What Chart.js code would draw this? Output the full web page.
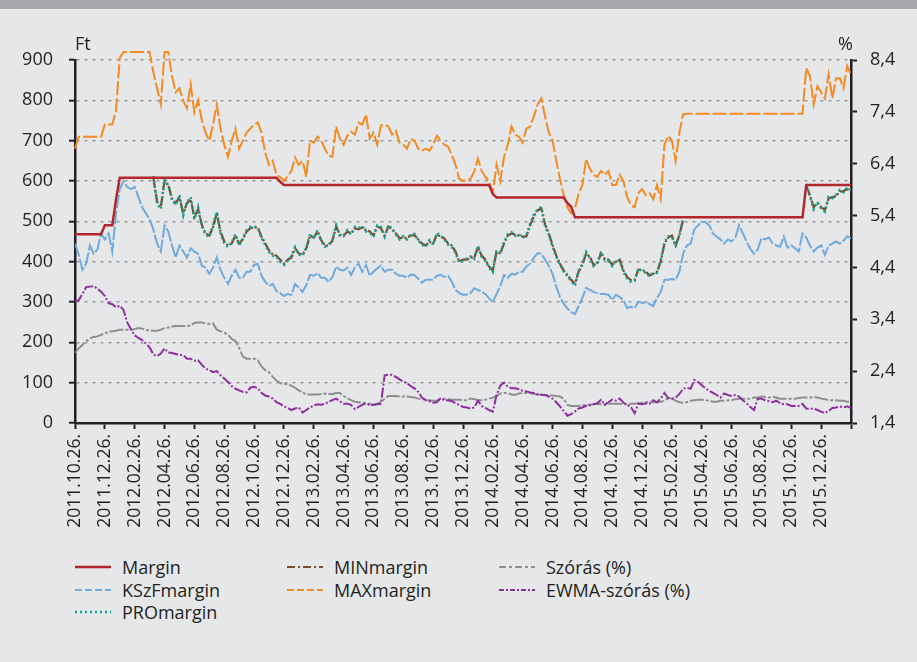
<!DOCTYPE html>
<html>
<head>
<meta charset="utf-8">
<script src="https://cdn.jsdelivr.net/npm/chart.js@4.4.1/dist/chart.umd.min.js"></script>
<style>
  html, body { margin: 0; padding: 0; }
  body {
    width: 917px; height: 662px; position: relative; overflow: hidden;
    background: #e6e7e9; font-family: 'Open Sans', sans-serif; color: #231f20;
  }
  .topbar { position: absolute; left: 0; top: 0; width: 917px; height: 9px; background: #a7a8ab; }
  #chart { position: absolute; left: 0; top: 0; }
  .item { position: absolute; height: 22px; display: flex; align-items: center; font-size: 18px; white-space: nowrap; }
  .item svg { margin-right: 11px; }
</style>
</head>
<body>
<div class="topbar"></div>
<canvas id="chart" width="917" height="545"></canvas>
<div id="legend"></div>

<script>
// x axis: one point per week from 2011.10.26, a labelled tick every 8 weeks
const dateLabels = [
    '2011.10.26.', '2011.12.26.', '2012.02.26.', '2012.04.26.', '2012.06.26.', '2012.08.26.',
    '2012.10.26.', '2012.12.26.', '2013.02.26.', '2013.04.26.', '2013.06.26.', '2013.08.26.',
    '2013.10.26.', '2013.12.26.', '2014.02.26.', '2014.04.26.', '2014.06.26.', '2014.08.26.',
    '2014.10.26.', '2014.12.26.', '2015.02.26.', '2015.04.26.', '2015.06.26.', '2015.08.26.',
    '2015.10.26.', '2015.12.26.'
];
const weeksPerLabel = 8;
const lastWeek = 208;

// Margin (Ft) - break points of the step line
const marginWeek = [0, 7, 8, 10, 11, 12, 54, 55, 56, 111, 112, 113, 131, 132, 133, 134, 195, 196, 208];
const marginFt   = [468, 468, 490, 490, 555, 608, 608, 598, 590, 590, 568, 559, 559, 545, 536, 510, 510, 590, 590];

// KSzFmargin (Ft), weekly
const kszfFt = [
    445, 417, 380, 395, 440, 420, 430, 470, 455, 470, 425, 520, 580, 600, 585, 580, 585, 560, 535, 520,
    505, 480, 445, 425, 490, 475, 441, 410, 440, 425, 410, 433, 425, 420, 390, 385, 370, 385, 410, 380,
    360, 345, 365, 380, 360, 360, 375, 375, 392, 395, 365, 350, 340,
    345, 327, 322, 315, 320, 318, 345, 335, 325, 342, 367, 365, 372, 360, 360, 350, 362, 388, 380, 378,
    385, 367, 385, 395, 375, 392, 365, 375, 383, 390, 375, 380, 380, 370, 365, 365, 360, 368, 367, 358,
    348, 355, 355, 355, 365, 368, 362, 365, 350, 330, 322, 318, 318,
    322, 334, 330, 325, 320, 309, 300, 320, 340, 367, 360, 370, 368, 375, 375, 388, 395, 410, 421, 420,
    405, 390, 370, 338, 312, 295, 284, 275, 270, 290, 310, 335, 330, 325, 322, 320, 320, 318, 305, 318,
    312, 305, 285, 288, 285, 300, 298, 298, 295, 290, 310, 325, 355,
    355, 357, 355, 375, 420, 440, 445, 480, 490, 499, 498, 490, 470, 462, 455, 445, 455, 450, 460, 490,
    470, 450, 432, 420, 430, 458, 455, 460, 445, 440, 437, 462, 435, 440, 433, 425, 470, 460, 440, 425,
    435, 440, 417, 440, 445, 450, 445, 452, 463, 458
];

// MAXmargin (Ft), weekly
const maxFt = [
    680, 710, 710, 710, 710, 710, 710, 710, 740, 740, 740, 775, 905, 920, 920, 920, 920, 920, 920, 920,
    920, 870, 830, 790, 920, 920, 860, 820, 830, 800, 780, 840, 770, 800, 750, 720, 700, 740, 790, 730,
    690, 660, 700, 730, 680, 700, 720, 730, 740, 745, 720, 670, 640,
    650, 615, 610, 600, 612, 625, 658, 640, 650, 610, 700, 695, 710, 700, 680, 662, 660, 735, 705, 690,
    712, 722, 715, 745, 740, 765, 705, 720, 690, 738, 740, 735, 715, 725, 695, 690, 680, 705, 700, 680,
    675, 680, 675, 690, 712, 700, 690, 685, 665, 640, 605, 600, 602,
    605, 623, 655, 625, 610, 598, 572, 640, 600, 660, 690, 735, 715, 710, 695, 730, 735, 760, 790, 805,
    760, 720, 700, 650, 605, 565, 535, 520, 532, 568, 590, 655, 630, 615, 610, 625, 615, 625, 590, 590,
    615, 600, 560, 540, 535, 570, 580, 565, 570, 555, 590, 555,
    690, 712, 700, 650, 720, 765,
    767, 767, 767, 767, 767, 767, 767, 767, 767, 767, 767, 767, 767, 767, 767, 767,
    767, 767, 767, 767, 767, 767, 767, 767, 767, 767, 767, 767, 767, 767, 767, 767,
    880, 860, 790, 835, 820, 805, 865, 805, 855, 855, 830, 885, 863
];

// MINmargin and PROmargin (Ft), weekly, two stretches
const minStartA = 21;
const minFtA = [
    608, 549, 535, 600, 590, 557, 545, 560, 520, 545, 555, 510, 530, 491, 470, 465, 485, 520, 475, 450,
    440, 445, 465, 445, 455, 475, 483, 485, 485, 462, 445, 428,
    418, 415, 405, 395, 405, 410, 433, 420, 418, 433, 465, 460, 475, 453, 440, 440, 452, 487, 467, 463,
    475, 470, 483, 480, 485, 478, 475, 465, 487, 483, 465, 487, 480, 470, 458, 460, 458, 465, 466, 455,
    445, 440, 450, 445, 468, 462, 458, 445, 440, 425, 400, 405, 405,
    410, 410, 436, 415, 405, 388, 378, 425, 420, 445, 465, 470, 467, 465, 462, 463, 490, 513, 527, 532,
    492, 470, 441, 415, 395, 378, 367, 355, 345, 375, 392, 420, 412, 392, 395, 421, 407, 405, 392, 400,
    405, 378, 362, 354, 355, 380, 380, 375, 366, 370, 375, 400, 445, 460, 465, 440, 465, 505
];
const minStartB = 196;
const minFtB = [588, 565, 535, 545, 535, 528, 557, 560, 562, 574, 575, 580, 575];

const proFtA = [
    612, 545, 530, 605, 588, 552, 540, 565, 515, 548, 560, 505, 535, 488, 466, 462, 490, 524, 470, 446,
    436, 448, 468, 440, 458, 478, 486, 488, 482, 458, 441, 424,
    415, 412, 400, 392, 402, 414, 436, 418, 414, 436, 468, 457, 478, 450, 437, 443, 455, 490, 464, 466,
    478, 467, 486, 483, 488, 475, 472, 462, 490, 486, 462, 490, 483, 467, 455, 463, 455, 468, 469, 452,
    442, 437, 453, 442, 471, 465, 455, 442, 437, 422, 397, 402, 408,
    413, 407, 440, 412, 402, 385, 374, 428, 423, 448, 468, 473, 464, 468, 459, 466, 494, 517, 530, 536,
    488, 467, 438, 412, 392, 375, 364, 351, 340, 378, 395, 424, 409, 389, 398, 424, 404, 402, 389, 403,
    402, 375, 358, 350, 352, 383, 377, 372, 363, 373, 372, 404, 448, 463, 462, 437, 468, 510
];
const proFtB = [592, 562, 530, 548, 532, 524, 560, 557, 566, 578, 572, 584, 578];

// Szórás (%), weekly
const sdPct = [
    2.75, 2.84, 2.91, 2.98, 3.03, 3.06, 3.07, 3.10, 3.13, 3.16, 3.17, 3.18, 3.20, 3.20, 3.20, 3.20, 3.21, 3.23, 3.22, 3.20,
    3.18, 3.18, 3.18, 3.20, 3.23, 3.24, 3.26, 3.27, 3.27, 3.27, 3.27, 3.28, 3.33, 3.34, 3.34, 3.32, 3.31, 3.32, 3.20, 3.17,
    3.14, 3.10, 3.02, 2.98, 2.85, 2.68, 2.64, 2.64, 2.64, 2.61, 2.49, 2.42, 2.38,
    2.29, 2.22, 2.17, 2.15, 2.15, 2.12, 2.08, 2.03, 1.99, 1.95, 1.95, 1.95, 1.95, 1.96, 1.97, 1.96, 1.96, 1.98, 1.98,
    1.92, 1.88, 1.84, 1.81, 1.80, 1.79, 1.78, 1.77, 1.75, 1.77, 1.80, 1.87, 1.92, 1.92, 1.92, 1.91, 1.91, 1.91, 1.90, 1.89,
    1.87, 1.86, 1.85, 1.84, 1.83, 1.83, 1.87, 1.87, 1.86, 1.85, 1.85, 1.85, 1.84, 1.84,
    1.87, 1.86, 1.84, 1.84, 1.85, 1.87, 1.89, 1.92, 1.97, 1.98, 1.98, 1.95, 1.94, 1.97, 1.98, 1.98, 1.98, 1.96, 1.95, 1.95,
    1.94, 1.94, 1.93, 1.92, 1.91, 1.87, 1.75, 1.73, 1.73, 1.73, 1.74, 1.75, 1.75, 1.76, 1.77, 1.76, 1.76, 1.77, 1.77, 1.77,
    1.77, 1.76, 1.76, 1.77, 1.77, 1.78, 1.79, 1.80, 1.81, 1.80, 1.80, 1.81, 1.83,
    1.88, 1.87, 1.83, 1.80, 1.79, 1.80, 1.83, 1.84, 1.85, 1.85, 1.84, 1.83, 1.81, 1.81, 1.83, 1.83, 1.84, 1.84, 1.86, 1.87,
    1.87, 1.87, 1.87, 1.89, 1.89, 1.91, 1.90, 1.89, 1.90, 1.89, 1.87, 1.87, 1.87, 1.87, 1.87, 1.88, 1.89, 1.89, 1.89, 1.90,
    1.89, 1.87, 1.86, 1.84, 1.84, 1.84, 1.83, 1.83, 1.81, 1.81
];

// EWMA-szórás (%), weekly
const ewmaPct = [
    3.74, 3.77, 3.89, 4.02, 4.03, 4.04, 3.99, 3.93, 3.85, 3.71, 3.69, 3.63, 3.66, 3.58, 3.34, 3.21, 3.09, 3.04, 3.00, 2.93,
    2.86, 2.72, 2.69, 2.74, 2.84, 2.76, 2.75, 2.73, 2.71, 2.71, 2.64, 2.64, 2.60, 2.61, 2.52, 2.45, 2.42, 2.38, 2.40, 2.32,
    2.26, 2.19, 2.11, 2.06, 2.03, 2.00, 1.99, 2.08, 2.10, 2.07, 1.98, 1.93, 1.91,
    1.87, 1.80, 1.77, 1.72, 1.69, 1.65, 1.68, 1.70, 1.60, 1.65, 1.70, 1.74, 1.76, 1.75, 1.77, 1.81, 1.84, 1.87, 1.82, 1.77,
    1.77, 1.75, 1.67, 1.71, 1.75, 1.78, 1.74, 1.75, 1.76, 1.77, 2.32, 2.33, 2.33, 2.29, 2.24, 2.20, 2.17, 2.11, 2.07, 2.00,
    1.89, 1.84, 1.82, 1.79, 1.80, 1.88, 1.84, 1.84, 1.82, 1.78, 1.75, 1.71, 1.70,
    1.68, 1.70, 1.83, 1.73, 1.69, 1.65, 1.62, 1.94, 2.12, 2.18, 2.10, 2.07, 2.07, 2.05, 2.02, 2.01, 1.99, 1.98, 1.95, 1.94,
    1.94, 1.91, 1.87, 1.80, 1.72, 1.63, 1.54, 1.57, 1.62, 1.68, 1.70, 1.73, 1.74, 1.76, 1.78, 1.85, 1.75, 1.80, 1.85, 1.83,
    1.87, 1.79, 1.75, 1.71, 1.59, 1.77, 1.76, 1.78, 1.77, 1.84, 1.80, 1.87, 1.98,
    1.88, 1.87, 1.89, 1.96, 2.06, 2.08, 2.06, 2.23, 2.19, 2.13, 2.07, 2.02, 1.98, 1.94, 1.89, 1.97, 1.94, 1.92, 1.94, 1.91,
    1.84, 1.78, 1.71, 1.65, 1.87, 1.87, 1.84, 1.82, 1.80, 1.83, 1.78, 1.76, 1.76, 1.73, 1.73, 1.73, 1.77, 1.68, 1.67, 1.68,
    1.65, 1.62, 1.59, 1.63, 1.69, 1.70, 1.72, 1.70, 1.72, 1.69
];

// series styles, also used by the legend
const styles = {
    margin: { label: 'Margin',           color: '#b3262b', width: 2.5, dash: [] },
    kszf:   { label: 'KSzFmargin',       color: '#6eaade', width: 2,   dash: [14, 2] },
    pro:    { label: 'PROmargin',        color: '#17a08c', width: 2.5, dash: [2, 3] },
    min:    { label: 'MINmargin',        color: '#7b4b2c', width: 2.2, dash: [10, 2, 2, 2] },
    max:    { label: 'MAXmargin',        color: '#f38a22', width: 2,   dash: [14, 3] },
    sd:     { label: 'Szórás (%)',       color: '#8e8e8e', width: 2,   dash: [14, 2, 3, 2] },
    ewma:   { label: 'EWMA-szórás (%)',  color: '#8e2fa0', width: 2,   dash: [10, 2, 2, 2] }
};
const legendDash = {
    kszf: [7, 3], max: [7, 3], sd: [7, 3, 3, 3], ewma: [5, 2, 2, 2], min: [8, 3, 2, 3]
};

const toPoints = (vals, start = 0) => vals.map((v, k) => ({ x: start + k, y: v }));
const twoStretches = (a, startA, b, startB) =>
    [...toPoints(a, startA), { x: startA + a.length, y: null }, ...toPoints(b, startB)];

const line = (key, data, extra = {}) => ({
    label: styles[key].label,
    data: data,
    borderColor: styles[key].color,
    borderWidth: styles[key].width,
    borderDash: styles[key].dash,
    pointRadius: 0,
    tension: 0,
    fill: false,
    spanGaps: false,
    yAxisID: 'y',
    ...extra
});

// first dataset is drawn on top
const datasets = [
    line('margin', marginWeek.map((w, k) => ({ x: w, y: marginFt[k] }))),
    line('pro', twoStretches(proFtA, minStartA, proFtB, minStartB)),
    line('min', twoStretches(minFtA, minStartA, minFtB, minStartB)),
    line('kszf', toPoints(kszfFt)),
    line('max', toPoints(maxFt), { clip: false }),
    line('ewma', toPoints(ewmaPct), { yAxisID: 'y1' }),
    line('sd', toPoints(sdPct), { yAxisID: 'y1' })
];

const tickFont = { family: "'Open Sans', sans-serif", size: 18 };
const axisColor = '#231f20';

// unit captions above the two value axes
const unitCaptions = {
    id: 'unitCaptions',
    afterDraw(chart) {
        const { ctx, chartArea } = chart;
        ctx.save();
        ctx.fillStyle = axisColor;
        ctx.font = "18px 'Open Sans', sans-serif";
        ctx.textBaseline = 'alphabetic';
        ctx.textAlign = 'left';
        ctx.fillText('Ft', chartArea.left, 50);
        ctx.textAlign = 'right';
        ctx.fillText('%', chartArea.right + 2, 50);
        ctx.restore();
    }
};

new Chart(document.querySelector('#chart'), {
    type: 'line',
    data: { datasets: datasets },
    options: {
        responsive: false,
        animation: false,
        layout: { padding: { top: 60, left: 0, right: 0, bottom: 0 } },
        plugins: {
            legend: { display: false },
            tooltip: { enabled: false }
        },
        scales: {
            x: {
                type: 'linear',
                min: 0,
                max: lastWeek,
                afterFit: (scale) => { scale.height = 122; },
                border: { color: axisColor, width: 2.5 },
                grid: { drawOnChartArea: false, drawTicks: true, tickLength: 6, tickColor: axisColor, tickWidth: 2 },
                ticks: {
                    stepSize: weeksPerLabel,
                    autoSkip: false,
                    maxRotation: 90,
                    minRotation: 90,
                    padding: 5,
                    color: axisColor,
                    font: { family: "'Open Sans', sans-serif", size: 17.5 },
                    callback: (value) => dateLabels[value / weeksPerLabel] || ''
                }
            },
            y: {
                position: 'left',
                min: 0,
                max: 900,
                afterFit: (scale) => { scale.width = 75; },
                border: { color: axisColor, width: 2.5, dash: [3, 5] },
                grid: {
                    color: '#9a9a9a', lineWidth: 1.4,
                    tickLength: 6, tickColor: axisColor, tickWidth: 2, tickBorderDash: []
                },
                ticks: { stepSize: 100, padding: 16, color: axisColor, font: tickFont }
            },
            y1: {
                position: 'right',
                min: 1.4,
                max: 8.4,
                afterFit: (scale) => { scale.width = 66; },
                border: { color: axisColor, width: 2.5 },
                grid: { drawOnChartArea: false, tickLength: 6, tickColor: axisColor, tickWidth: 2 },
                ticks: {
                    stepSize: 1,
                    padding: 13,
                    color: axisColor,
                    font: tickFont,
                    callback: (value) => value.toFixed(1).replace('.', ',')
                }
            }
        }
    },
    plugins: [unitCaptions]
});

// legend in three columns below the chart
const legendItems = [
    ['margin', 75, 567], ['kszf', 75, 590], ['pro', 75, 612],
    ['min', 287, 567], ['max', 287, 590],
    ['sd', 499, 567], ['ewma', 499, 590]
];
const legend = document.querySelector('#legend');
legendItems.forEach(([key, left, y]) => {
    const s = styles[key];
    const dash = legendDash[key] || s.dash;
    const item = document.createElement('div');
    item.className = 'item';
    item.style.left = left + 'px';
    item.style.top = (y - 11) + 'px';
    item.innerHTML =
        '<svg width="36" height="6"><line x1="0" y1="3" x2="36" y2="3" stroke="' + s.color +
        '" stroke-width="' + Math.min(s.width, 2.5) + '" stroke-dasharray="' + (dash.join(' ') || 'none') +
        '"/></svg><span>' + s.label + '</span>';
    legend.appendChild(item);
});
</script>
</body>
</html>
